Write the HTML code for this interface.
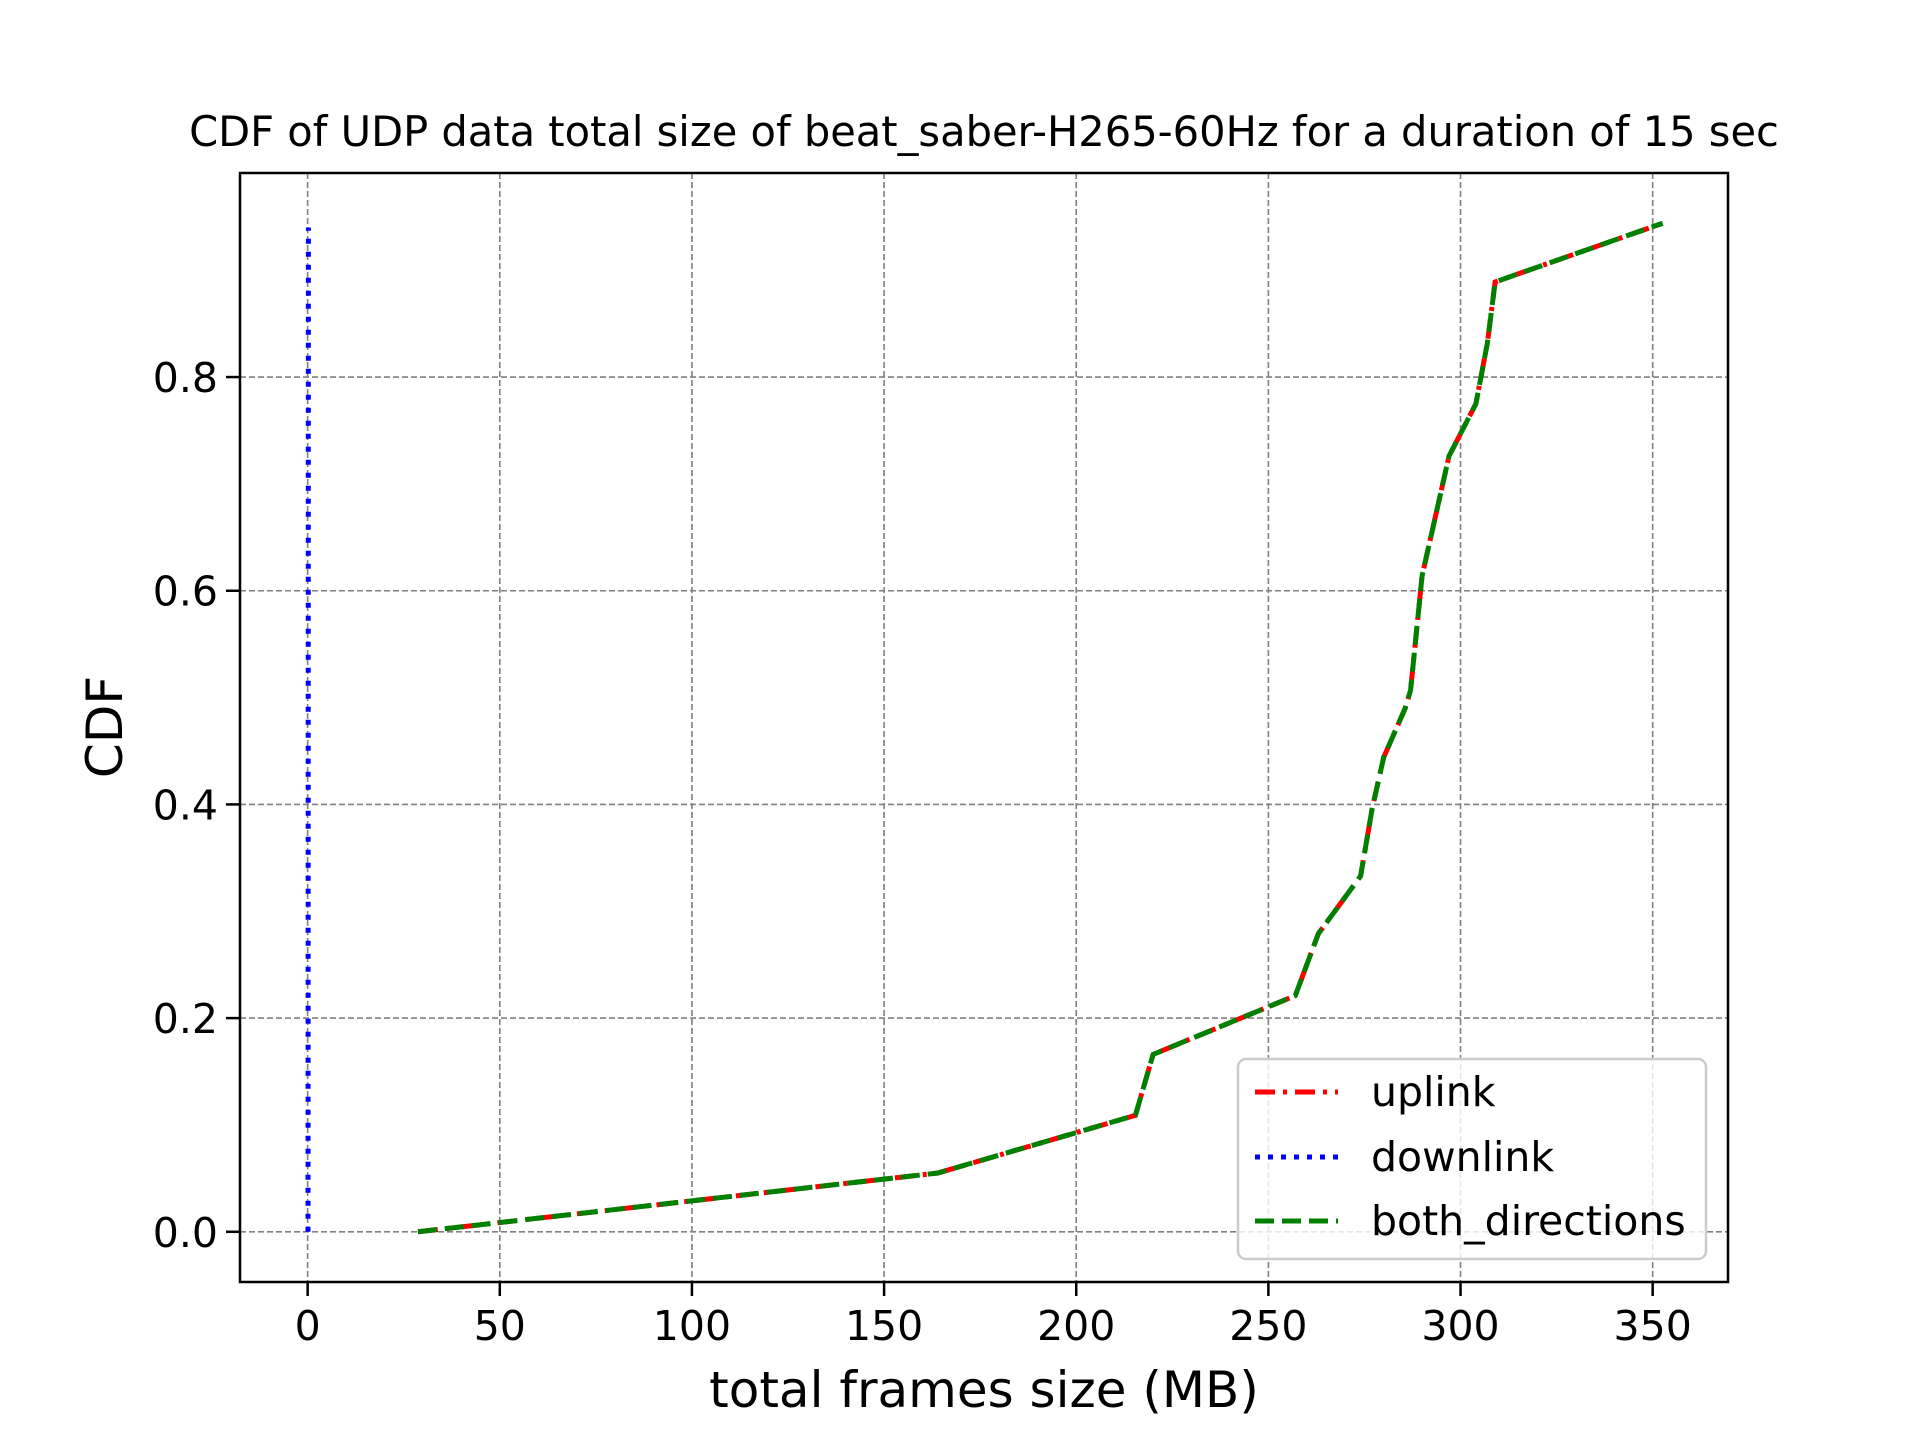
<!DOCTYPE html>
<html><head><meta charset="utf-8"><style>
body{margin:0;background:#fff;}
svg text{font-family:"DejaVu Sans","Liberation Sans",sans-serif;fill:#000;}
</style></head><body>
<svg id="chart" width="1920" height="1440" xmlns="http://www.w3.org/2000/svg">
<rect width="1920" height="1440" fill="#fff"/>
<text x="984" y="146" font-size="41.6" text-anchor="middle">CDF of UDP data total size of beat_saber-H265-60Hz for a duration of 15 sec</text>
<g id="grid"></g>
<g id="series"></g>
<rect x="240" y="173" width="1488" height="1109" fill="none" stroke="#000" stroke-width="2.5"/>
<g id="ticks"></g>
<text x="984" y="1407" font-size="50" text-anchor="middle">total frames size (MB)</text>
<text transform="translate(122,727) rotate(-90)" font-size="50" text-anchor="middle">CDF</text>
<g>
<rect x="1238" y="1059" width="468" height="200" rx="8" fill="#fff" fill-opacity="0.8" stroke="#ccc" stroke-width="2.5"/>
<line x1="1255" y1="1092" x2="1338" y2="1092" stroke="red" stroke-width="5" stroke-dasharray="20 8 4 8"/>
<text x="1371" y="1106" font-size="41">uplink</text>
<line x1="1255" y1="1157" x2="1338" y2="1157" stroke="blue" stroke-width="5" stroke-dasharray="5 8"/>
<text x="1371" y="1171" font-size="41">downlink</text>
<line x1="1255" y1="1221" x2="1338" y2="1221" stroke="green" stroke-width="5" stroke-dasharray="19 8"/>
<text x="1371" y="1235" font-size="41">both_directions</text>
</g>
</svg>
<script>
const upX=[28.7,164,215.4,220,257,263,274,277,280,285.6,287,290,297,304,307,309,352.6];
const upY=[0,0.055,0.109,0.166,0.221,0.279,0.333,0.396,0.444,0.49,0.507,0.614,0.726,0.775,0.832,0.889,0.944];
const downX=[0.1,0.2];
const downY=[0,0.94];
const xTicks=[0,50,100,150,200,250,300,350];
const yTicks=[0,0.2,0.4,0.6,0.8];
const NS='http://www.w3.org/2000/svg';
const xmin=-17.6,xmax=369.6,ymin=-0.047,ymax=0.991;
const L=240,R=1728,T=173,B=1282;
const sx=v=>L+(v-xmin)/(xmax-xmin)*(R-L);
const sy=v=>B-(v-ymin)/(ymax-ymin)*(B-T);
function mk(tag,attrs,parent){const e=document.createElementNS(NS,tag);for(const k in attrs)e.setAttribute(k,attrs[k]);parent.appendChild(e);return e;}
const grid=document.getElementById('grid'),ticks=document.getElementById('ticks'),ser=document.getElementById('series');
xTicks.forEach(v=>{const x=sx(v);
const g=mk('line',{x1:x,x2:x,y1:T,y2:B,stroke:'#808080','stroke-width':1.6,'stroke-dasharray':'6 3'},grid);


mk('line',{x1:x,x2:x,y1:B,y2:B+14,stroke:'#000','stroke-width':2.5},ticks);
const t=mk('text',{x:x,y:B+58,'font-size':41,'text-anchor':'middle'},ticks);t.textContent=v;

});
yTicks.forEach(v=>{const y=sy(v);
const g=mk('line',{x1:L,x2:R,y1:y,y2:y,stroke:'#808080','stroke-width':1.6,'stroke-dasharray':'6 3'},grid);


mk('line',{x1:L-14,x2:L,y1:y,y2:y,stroke:'#000','stroke-width':2.5},ticks);
const t=mk('text',{x:L-22,y:y+15,'font-size':41,'text-anchor':'end'},ticks);t.textContent=v.toFixed(1);

});
function pts(xs,ys){return xs.map((x,i)=>sx(x)+','+sy(ys[i])).join(' ');}
const up=mk('polyline',{points:pts(upX,upY),fill:'none',stroke:'red','stroke-width':5,'stroke-dasharray':'20 8 4 8'},ser);


const dn=mk('polyline',{points:pts(downX,downY),fill:'none',stroke:'blue','stroke-width':5,'stroke-dasharray':'5 8'},ser);


const both=mk('polyline',{points:pts(upX,upY),fill:'none',stroke:'green','stroke-width':5,'stroke-dasharray':'19 8'},ser);


</script>
</body></html>
